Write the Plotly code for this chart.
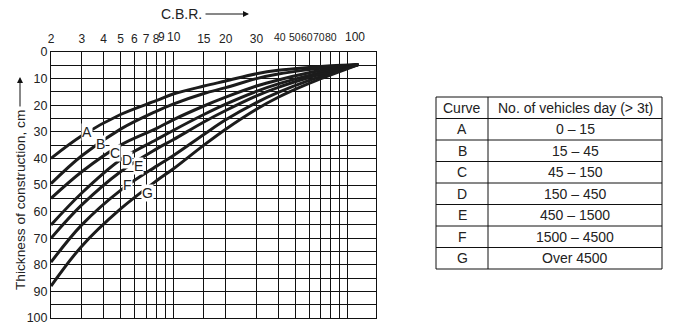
import math
import plotly.graph_objects as go

# ---- data ----
cbr = [2, 3, 5, 8, 10, 15, 20, 30, 40, 60, 80, 115]
curve_A = [40, 31.5, 23.5, 18.3, 15.8, 12.8, 10.9, 8.2, 6.9, 5.8, 5.2, 4.7]
curve_B = [49.5, 39, 29, 22.3, 19.6, 15.6, 13.4, 10, 8.3, 6.6, 5.6, 4.7]
curve_C = [55, 45, 35, 28.8, 25.5, 20.3, 17, 12.8, 10.5, 7.8, 6.3, 4.7]
curve_D = [65, 53, 40.5, 33, 29.5, 23.5, 19.6, 14.8, 12, 8.8, 6.9, 4.7]
curve_E = [70, 57.5, 45, 36.5, 33, 26.3, 22, 16.5, 13.3, 9.6, 7.4, 4.7]
curve_F = [79, 65, 52, 43, 39, 31, 25.5, 19, 15.2, 10.7, 8, 4.7]
curve_G = [88, 73, 59, 48.5, 44, 35, 29, 21.5, 17, 11.8, 8.6, 4.7]
curve_names = ["A", "B", "C", "D", "E", "F", "G"]
curves = [curve_A, curve_B, curve_C, curve_D, curve_E, curve_F, curve_G]

# label points on each curve (CBR, thickness)
label_cbr = [3.2, 3.84, 4.66, 5.46, 6.36, 5.5, 7.16]
label_thk = [30, 34.7, 38, 40.5, 43, 50, 53]

# C.B.R. gridlines and their printed labels
x_tickvals = [2, 3, 4, 5, 6, 7, 8, 9, 10, 15, 20, 30, 40, 50, 60, 70, 80, 90, 100]
x_ticktext = ["2", "3", "4", "5", "6", "7", "8", "9", "10", "15", "20", "30",
              "40", "50", "60", "70", "80", "", "100"]
# crowded labels that are printed squeezed together in the original
crowded_labels = ["9", "10", "40", "50", "60", "70", "80", "100"]

y_tickvals = list(range(0, 101, 10))

table_header = ["Curve", "No. of vehicles day (> 3t)"]
table_curve = ["A", "B", "C", "D", "E", "F", "G"]
table_vehicles = ["0 – 15", "15 – 45", "45 – 150", "150 – 450",
                  "450 – 1500", "1500 – 4500", "Over 4500"]

# ---- figure ----
W, H = 676, 334
ML, MT, MR, MB = 51, 52, 14, 16
PW = W - ML - MR
PH = H - MT - MB
FONT = "Liberation Sans, Arial"
TXT = "#222"


def px(x):   # pixel -> paper x
    return (x - ML) / PW


def py(y):   # pixel -> paper y
    return 1 - (y - MT) / PH


fig = go.Figure()
for name, vals in zip(curve_names, curves):
    fig.add_trace(go.Scatter(
        x=cbr, y=vals, mode="lines", name=name, showlegend=False,
        line=dict(color="#1c1c1c", width=3, shape="spline", smoothing=1.0),
        hoverinfo="skip"))

annotations = []
shapes = []


def text_ann(x, y, text, size=12, **kw):
    d = dict(x=x, y=y, xref="paper", yref="paper", text=text, showarrow=False,
             xanchor="center", yanchor="middle", borderpad=0,
             font=dict(family=FONT, size=size, color=TXT))
    d.update(kw)
    return d


for name, c, t in zip(curve_names, label_cbr, label_thk):
    annotations.append(dict(
        x=math.log10(c), y=t, xref="x", yref="y", text=name, showarrow=False,
        xanchor="center", yanchor="middle",
        font=dict(family=FONT, size=14, color=TXT),
        bgcolor="white", borderpad=0))

# squeezed top labels, placed where the original prints them
TICK_Y = 37
crowd_pos = {"9": (166, "right", 12), "10": (166, "left", 12),
             "40": (280, "center", 10.5), "50": (294.5, "center", 10.5),
             "60": (306.5, "center", 10.5), "70": (318.5, "center", 10.5),
             "80": (330.5, "center", 10.5), "100": (355, "center", 12)}
for lab in crowded_labels:
    xx, anc, sz = crowd_pos[lab]
    annotations.append(text_ann(px(xx), py(TICK_Y), lab, size=sz, xanchor=anc))

# C.B.R. title with arrow
annotations.append(text_ann(px(181), py(14), "C.B.R.", size=14))
annotations.append(dict(x=px(249), y=py(14), xref="paper", yref="paper",
                        text="", showarrow=True, ax=-45, ay=0,
                        arrowhead=2, arrowsize=1.2, arrowwidth=1, arrowcolor="#111"))
# y-axis title with arrow
annotations.append(text_ann(px(20), py(200), "Thickness of construction, cm",
                            size=13.7, textangle=-90))
annotations.append(dict(x=px(20), y=py(77), xref="paper", yref="paper",
                        text="", showarrow=True, ax=0, ay=31,
                        arrowhead=2, arrowsize=1.2, arrowwidth=1, arrowcolor="#111"))

# table drawn with shapes + annotations
TX0, TX1, TXM = 436, 662, 488
TY0 = 97
ROW_H = 21.5
rows = [table_header] + [[a, b] for a, b in zip(table_curve, table_vehicles)]
TY1 = TY0 + ROW_H * len(rows)
line = dict(color="#111", width=1)
shapes.append(dict(type="rect", xref="paper", yref="paper",
                   x0=px(TX0), x1=px(TX1), y0=py(TY1), y1=py(TY0), line=line))
shapes.append(dict(type="line", xref="paper", yref="paper",
                   x0=px(TXM), x1=px(TXM), y0=py(TY1), y1=py(TY0), line=line))
for i in range(1, len(rows)):
    yy = py(TY0 + ROW_H * i)
    shapes.append(dict(type="line", xref="paper", yref="paper",
                       x0=px(TX0), x1=px(TX1), y0=yy, y1=yy, line=line))
for i, (c1, c2) in enumerate(rows):
    yc = py(TY0 + ROW_H * (i + 0.5))
    annotations.append(text_ann(px((TX0 + TXM) / 2), yc, c1, size=14))
    annotations.append(text_ann(px((TXM + TX1) / 2), yc, c2, size=14))

ticktext_fmt = ["" if t in crowded_labels else t for t in x_ticktext]

fig.update_layout(
    width=W, height=H, margin=dict(l=ML, r=MR, t=MT, b=MB),
    paper_bgcolor="white", plot_bgcolor="white",
    font=dict(family=FONT, size=12, color=TXT),
    annotations=annotations, shapes=shapes,
    xaxis=dict(type="log", range=[math.log10(2), math.log10(145)],
               domain=[0, (376 - ML) / PW], side="top", automargin=False,
               tickvals=x_tickvals, ticktext=ticktext_fmt, tickangle=0,
               ticklabelstandoff=3,
               showgrid=True, gridcolor="#111", gridwidth=1,
               showline=True, linecolor="#111", linewidth=1, mirror=True,
               ticks="", zeroline=False, tickfont=dict(size=12, color=TXT)),
    yaxis=dict(range=[100, 0], tickvals=y_tickvals, automargin=False,
               showgrid=True, gridcolor="#111", gridwidth=1,
               minor=dict(dtick=5, showgrid=True, gridcolor="#111", gridwidth=1),
               showline=True, linecolor="#111", linewidth=1, mirror=True,
               ticks="", zeroline=False, tickfont=dict(size=12.5, color=TXT)),
)

# place the figure at the page's top-left corner (no default body margin)
fig.write_html("out.html", config={"displayModeBar": False},
               post_script="document.body.style.margin='0';")
